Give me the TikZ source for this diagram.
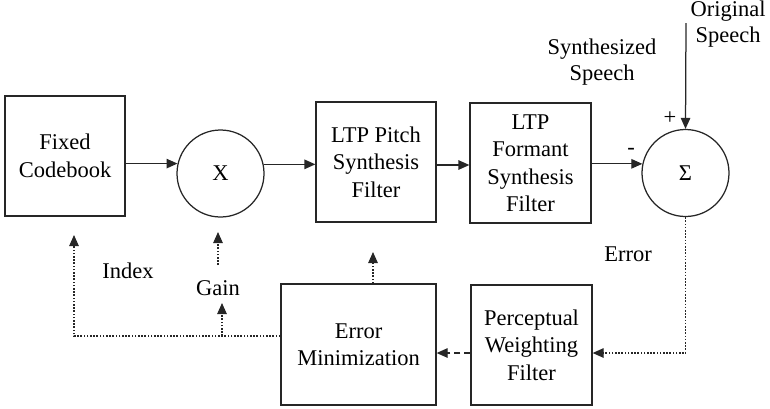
\documentclass[tikz,border=0pt]{standalone}
\usepackage{fontspec}
\setmainfont{Liberation Serif}
\usetikzlibrary{arrows.meta}

\tikzset{
  line/.style={line width=1.25pt, draw=black!85},
  block/.style={line, rectangle, inner sep=0pt, align=center,
    font=\fontsize{22.5}{27.5}\selectfont},
  junction/.style={line, circle, minimum size=87pt, inner sep=0pt,
    font=\fontsize{22.5}{27}\selectfont},
  lbl/.style={inner sep=0pt, align=center, font=\fontsize{22.5}{26}\selectfont},
  sig/.style={line, -{Triangle[length=11pt,width=9.5pt]}},
  dotline/.style={line, dash pattern=on 1.6pt off 1.6pt},
  dashline/.style={line, dash pattern=on 6pt off 4pt},
}

\begin{document}
\begin{tikzpicture}[x=1pt, y=-1pt]
  \useasboundingbox (0,0) rectangle (770,408);

  % processing blocks
  \node[block, minimum width=120pt, minimum height=120pt] (cb) at (65,156) {Fixed\\Codebook};
  \node[junction] (mult) at (220.5,173.5) {X};
  \node[block, minimum width=120pt, minimum height=120pt] (pitch) at (376,162) {LTP Pitch\\Synthesis\\Filter};
  \node[block, minimum width=121pt, minimum height=120pt] (formant) at (530.5,163) {LTP\\Formant\\Synthesis\\Filter};
  \node[junction] (sum) at (685.5,173) {Σ};
  \node[block, minimum width=155pt, minimum height=121pt] (emin) at (358.5,344.5) {Error\\Minimization};
  \node[block, minimum width=121pt, minimum height=120pt] (pw) at (531.5,345) {Perceptual\\Weighting\\Filter};

  % labels
  \node[lbl] (orig) at (728,24.5) {Original\\Speech};
  \node[lbl] (synth) at (602,62) {Synthesized\\Speech};
  \node[lbl] (plus) at (670,118) {+};
  \node[lbl] (minus) at (631,151) {-};
  \node[lbl] (errlbl) at (628,254) {Error};
  \node[lbl] (idxlbl) at (128,271) {Index};
  \node[lbl] (gainlbl) at (218,288) {Gain};

  % free ends and corners
  \coordinate (origtop) at (686,23);
  \coordinate (errcorner) at (685.5,353);
  \coordinate (emcorner) at (74,336);
  \coordinate (idxtip) at (74,235);
  \coordinate (gainbranch) at (222,336);
  \coordinate (gaintip) at (222,303);
  \coordinate (gainfrom) at (218,265);
  \coordinate (multtip) at (218,232);
  \coordinate (pitchtip) at (373,252);

  % forward signal path
  \draw[sig] (cb.east |- mult.167.4) -- (mult.167.4);
  \draw[sig] (mult.12.6) -- (pitch.west |- mult.12.6);
  \draw[sig] ([yshift=-3pt]pitch.east) -- ([yshift=-2pt]formant.west);
  \draw[sig] (formant.east |- sum.168) -- (sum.168);
  \draw[sig] (origtop) -- (sum.north);

  % error feedback path
  \draw[dotline, -{Triangle[length=11pt,width=9.5pt]}] (sum.south) -- (errcorner) -- (pw.east |- errcorner);
  \draw[dashline, -{Triangle[length=11pt,width=9.5pt]}] (pw.west |- errcorner) -- (emin.east |- errcorner);
  \draw[dotline, -{Triangle[length=11pt,width=9.5pt]}] (emin.west |- emcorner) -- (emcorner) -- (idxtip);
  \draw[dotline, -{Triangle[length=11pt,width=9.5pt]}] (gainbranch) -- (gaintip);
  \draw[dotline, -{Triangle[length=11pt,width=9.5pt]}] (gainfrom) -- (multtip);
  \draw[dotline, -{Triangle[length=11pt,width=9.5pt]}] (emin.north -| pitchtip) -- (pitchtip);
\end{tikzpicture}
\end{document}
